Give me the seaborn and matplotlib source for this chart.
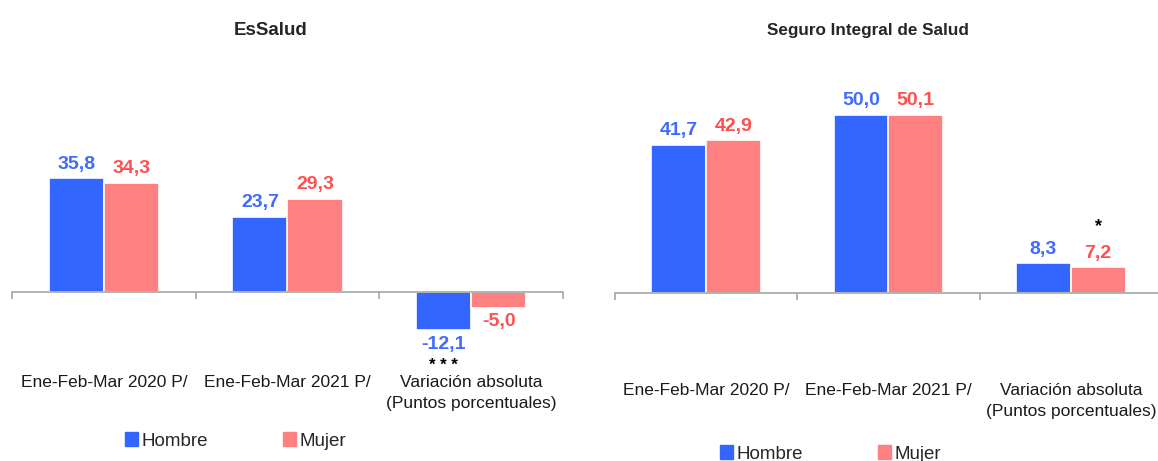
import matplotlib
matplotlib.use("Agg")
import matplotlib.pyplot as plt
import matplotlib.patches as mpatches
import seaborn as sns
import pandas as pd

sns.set_theme(style="white")
plt.rcParams["font.family"] = ["Liberation Sans", "DejaVu Sans"]

CATEGORIES = ["Ene-Feb-Mar 2020 P/", "Ene-Feb-Mar 2021 P/",
              "Variación absoluta\n(Puntos porcentuales)"]
SEXES = ["Hombre", "Mujer"]
ESSALUD_HOMBRE = [35.8, 23.7, -12.1]
ESSALUD_MUJER = [34.3, 29.3, -5.0]
SIS_HOMBRE = [41.7, 50.0, 8.3]
SIS_MUJER = [42.9, 50.1, 7.2]
# significance marks: (sex index, category index, text)
ESSALUD_STARS = [(0, 2, "* * *")]
SIS_STARS = [(1, 2, "*")]

BAR_COLORS = {"Hombre": "#3366FF", "Mujer": "#FF8080"}
TEXT_COLORS = {"Hombre": "#3F6BFF", "Mujer": "#FF4F4F"}
AXIS_GRAY = "#A6A6A6"


def make_df(hombre, mujer):
    rows = []
    for cat, h, m in zip(CATEGORIES, hombre, mujer):
        rows.append({"cat": cat, "sexo": "Hombre", "valor": h})
        rows.append({"cat": cat, "sexo": "Mujer", "valor": m})
    return pd.DataFrame(rows)


def draw_panel(ax, df, title, title_size, title_x, ylim, label_pad, stars):
    sns.barplot(data=df, x="cat", y="valor", hue="sexo", hue_order=SEXES,
                order=CATEGORIES, palette=BAR_COLORS, width=0.6,
                edgecolor="white", linewidth=1.2, saturation=1,
                legend=False, ax=ax)
    for container, sexo in zip(ax.containers, SEXES):
        vals = df[df["sexo"] == sexo].set_index("cat").loc[CATEGORIES, "valor"]
        labels = [f"{v:.1f}".replace(".", ",") for v in vals]
        ax.bar_label(container, labels=labels, padding=4, fontsize=14,
                     fontweight="bold", color=TEXT_COLORS[sexo])
    for s_idx, c_idx, txt in stars:
        bar = ax.containers[s_idx][c_idx]
        x = bar.get_x() + bar.get_width() / 2
        h = bar.get_height()
        dy = -25 if h < 0 else 29.5
        ax.annotate(txt, (x, h), xytext=(0, dy), textcoords="offset points",
                    ha="center", va="center", fontsize=12 if h < 0 else 13,
                    fontweight="bold", color="black")
    ax.set_xlim(-0.5, 2.5)
    ax.set_ylim(*ylim)
    ax.set_title(title, fontsize=title_size, fontweight="bold", pad=0,
                 x=title_x, y=1 + (60 - 27) / 280 - 0.03)
    ax.set_xlabel("")
    ax.set_ylabel("")
    ax.set_yticks([])
    for side in ["left", "right", "top"]:
        ax.spines[side].set_visible(False)
    ax.spines["bottom"].set_position(("data", 0))
    ax.spines["bottom"].set_color(AXIS_GRAY)
    ax.spines["bottom"].set_linewidth(1.2)
    ax.set_xticks(range(len(CATEGORIES)))
    ax.set_xticklabels(CATEGORIES, fontsize=12.5, color="#1A1A1A",
                       linespacing=1.5, va="top")
    ax.set_xticks([-0.5, 0.5, 1.5, 2.5], minor=True)
    ax.tick_params(axis="x", which="major", length=0, pad=label_pad)
    ax.tick_params(axis="x", which="minor", length=5, width=1.2,
                   color=AXIS_GRAY, direction="out", bottom=True)


fig = plt.figure(figsize=(11.58, 4.61), dpi=100)
W, H = 1158, 461

ax1 = fig.add_axes([12 / W, 1 - 340 / H, (563 - 12) / W, 280 / H])
ax2 = fig.add_axes([615 / W, 1 - 340 / H, (1162 - 615) / W, 280 / H])

draw_panel(ax1, make_df(ESSALUD_HOMBRE, ESSALUD_MUJER), "EsSalud", 13.5, 0.47,
           ((292 - 340) / 3.18, (292 - 60) / 3.18), 60, ESSALUD_STARS)
draw_panel(ax2, make_df(SIS_HOMBRE, SIS_MUJER), "Seguro Integral de Salud",
           12.3, 0.462, ((293 - 340) / 3.56, (293 - 60) / 3.56), 64.5,
           SIS_STARS)


def add_legend(x, y):
    handles = [mpatches.Patch(color=BAR_COLORS[s], label=s) for s in SEXES]
    fig.legend(handles=handles, loc="center", bbox_to_anchor=(x / W, 1 - y / H),
               ncol=2, frameon=False, handlelength=0.7, handleheight=0.7,
               handletextpad=0.2, columnspacing=4.0,
               prop={"size": 13.5})


add_legend(235.5, 441)
add_legend(830.5, 454)

fig.savefig("out.png", dpi=100, facecolor="white")
